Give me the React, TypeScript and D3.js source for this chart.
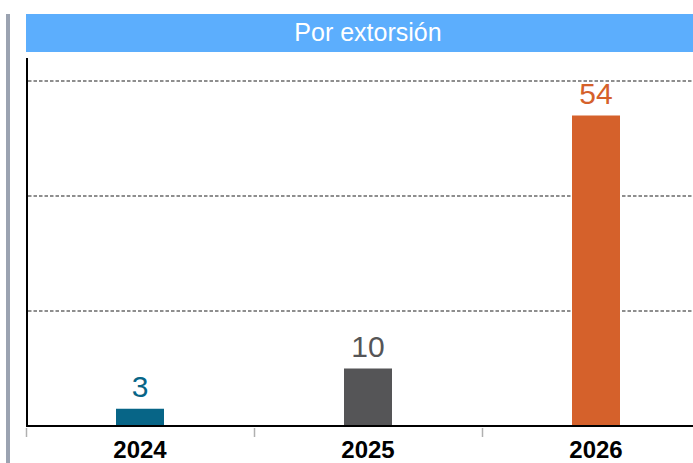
import React from "react";
import * as d3 from "d3";

const title = "Por extorsión";
const categories = ["2024", "2025", "2026"];
const values = [3, 10, 54];
const barColors = ["#076587", "#555557", "#d5612b"];
const gridTicks = [20, 40, 60];

const W = 693;
const H = 463;

export default function App() {
  const x = d3.scaleBand<string>().domain(categories).range([26, 710]).padding(0);
  const y = d3.scaleLinear().domain([0, 64]).range([426, 58]);
  const barW = 48;
  const font = "'Liberation Sans', Arial, sans-serif";

  return (
    <div style={{ position: "fixed", left: 0, top: 0 }}>
      <svg width={W} height={H} style={{ display: "block" }}>
        <rect x={0} y={0} width={W} height={H} fill="#ffffff" />
        <rect x={6} y={14} width={4} height={H - 14} fill="#9ba3b1" />
        <rect x={26} y={14} width={684} height={38} fill="#5caefd" />
        <text x={368} y={41} textAnchor="middle" fill="#ffffff" fontFamily={font} fontSize={25}>
          {title}
        </text>
        {gridTicks.map((t) => (
          <line
            key={t}
            x1={28}
            x2={W}
            y1={Math.round(y(t))}
            y2={Math.round(y(t))}
            stroke="#6a6a6a"
            strokeWidth={1.4}
            strokeDasharray="3.5,2"
          />
        ))}
        {categories.map((c) => (
          <line
            key={"tick" + c}
            x1={(x(c) as number) + 0.5}
            x2={(x(c) as number) + 0.5}
            y1={428}
            y2={437}
            stroke="#b0b0b0"
            strokeWidth={1.5}
          />
        ))}
        {categories.map((c, i) => {
          const cx = (x(c) as number) + x.bandwidth() / 2;
          return (
            <g key={c}>
              <rect x={cx - barW / 2} y={y(values[i])} width={barW} height={y(0) - y(values[i])} fill={barColors[i]} />
              <text x={cx} y={y(values[i]) - 12} textAnchor="middle" fill={barColors[i]} fontFamily={font} fontSize={30}>
                {values[i]}
              </text>
              <text x={cx} y={458} textAnchor="middle" fill="#000000" fontFamily={font} fontSize={24} fontWeight="bold">
                {c}
              </text>
            </g>
          );
        })}
        <line x1={27} x2={27} y1={58} y2={427} stroke="#000000" strokeWidth={2} />
        <line x1={26} x2={W} y1={426} y2={426} stroke="#000000" strokeWidth={2} />
      </svg>
    </div>
  );
}
